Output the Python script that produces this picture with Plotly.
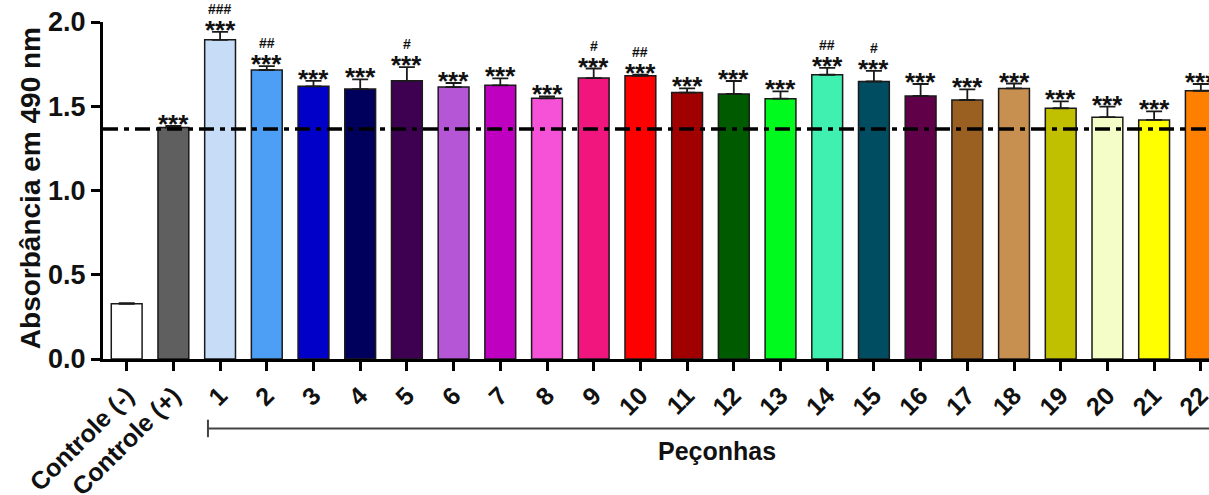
import plotly.graph_objects as go

categories = ["Controle (-)", "Controle (+)"] + [str(i) for i in range(1, 23)]
means = [0.328, 1.374, 1.894, 1.715, 1.618, 1.602, 1.651, 1.614, 1.624, 1.547,
         1.667, 1.681, 1.581, 1.573, 1.545, 1.687, 1.647, 1.561, 1.537, 1.606,
         1.488, 1.435, 1.419, 1.592]
errors = [0.003, 0.010, 0.047, 0.023, 0.033, 0.057, 0.081, 0.024, 0.041, 0.012,
          0.057, 0.006, 0.025, 0.077, 0.043, 0.041, 0.063, 0.071, 0.063, 0.029,
          0.041, 0.063, 0.051, 0.040]
stars = [""] + ["***"] * 23
hashes = ["", "", "###", "##", "", "", "#", "", "", "", "#", "##", "", "", "",
          "##", "#", "", "", "", "", "", "", ""]
colors = ["#ffffff", "#5f5f5f", "#c6dcf7", "#4d9ef5", "#0000c8", "#00005c",
          "#3e0050", "#b456d6", "#c000c0", "#f652d8", "#f0167e", "#ff0000",
          "#a00000", "#005a00", "#00fa1e", "#40f0b0", "#004c60", "#600048",
          "#9a6022", "#c89050", "#c0c000", "#f4fcc8", "#ffff00", "#ff8000"]
reference_level = 1.365
group_label = "Peçonhas"
y_title = "Absorbância em 490 nm"

FONT = "Liberation Sans, Arial, Helvetica, sans-serif"
xpos = list(range(len(categories)))

fig = go.Figure()
fig.add_trace(go.Bar(
    x=xpos, y=means, width=0.66,
    marker=dict(color=colors, line=dict(color="#1a1a1a", width=1.5)),
    error_y=dict(type="data", array=errors, arrayminus=[0] * len(errors),
                 symmetric=False, color="#1a1a1a", thickness=1.8, width=8),
    showlegend=False,
))

annotations = []
for x, m, e, s, h in zip(xpos, means, errors, stars, hashes):
    if s:
        annotations.append(dict(x=x, y=m + e, xref="x", yref="y", text=s,
                                showarrow=False, yanchor="middle", yshift=2,
                                font=dict(family=FONT, size=26, color="#111", weight=700),
                                ))
    if h:
        annotations.append(dict(x=x, y=m + e, xref="x", yref="y", text=h,
                                showarrow=False, yanchor="middle", yshift=23,
                                font=dict(family=FONT, size=14, color="#111", weight=700)))

annotations.append(dict(x=-0.066, y=0.507, xref="paper", yref="paper", text=y_title,
                        textangle=-90, showarrow=False, xanchor="center", yanchor="middle",
                        font=dict(family=FONT, size=28, color="#111", weight=700)))
annotations.append(dict(x=0.555, y=-0.274, xref="paper", yref="paper", text=group_label,
                        showarrow=False, xanchor="center", yanchor="middle",
                        font=dict(family=FONT, size=25, color="#111", weight=700)))

shapes = [
    dict(type="line", xref="paper", yref="y", x0=0, x1=1, y0=reference_level, y1=reference_level,
         line=dict(color="#000", width=3.5, dash="15px,6px,5px,6px"), layer="above"),
    dict(type="line", xref="paper", yref="paper", x0=0.0949, x1=1.0, y0=-0.206, y1=-0.206,
         line=dict(color="#444", width=2)),
    dict(type="line", xref="paper", yref="paper", x0=0.0949, x1=0.0949, y0=-0.180, y1=-0.232,
         line=dict(color="#444", width=2)),
]

fig.update_layout(
    width=1209, height=495,
    margin=dict(l=103, r=0, t=21.5, b=135.7, pad=0, autoexpand=False),
    plot_bgcolor="white", paper_bgcolor="white",
    annotations=annotations, shapes=shapes,
    bargap=0.34,
)
fig.update_xaxes(
    range=[-0.507, 23.175], tickvals=xpos, ticktext=categories, tickangle=-45,
    showline=True, linecolor="#000", linewidth=3, ticks="outside", ticklen=9,
    tickwidth=2.5, tickcolor="#000", showgrid=False, zeroline=False,
    ticklabeloverflow="allow", automargin=False,
    tickfont=dict(family=FONT, size=25, color="#111", weight=700),
)
fig.update_yaxes(
    range=[0, 2.0], tickvals=[0, 0.5, 1.0, 1.5, 2.0], tickformat=".1f",
    showline=True, linecolor="#000", linewidth=3, ticks="outside", ticklen=9,
    tickwidth=2.5, tickcolor="#000", showgrid=False, zeroline=False,
    automargin=False,
    tickfont=dict(family=FONT, size=27, color="#111", weight=700),
)

fig.write_html("out.html")
